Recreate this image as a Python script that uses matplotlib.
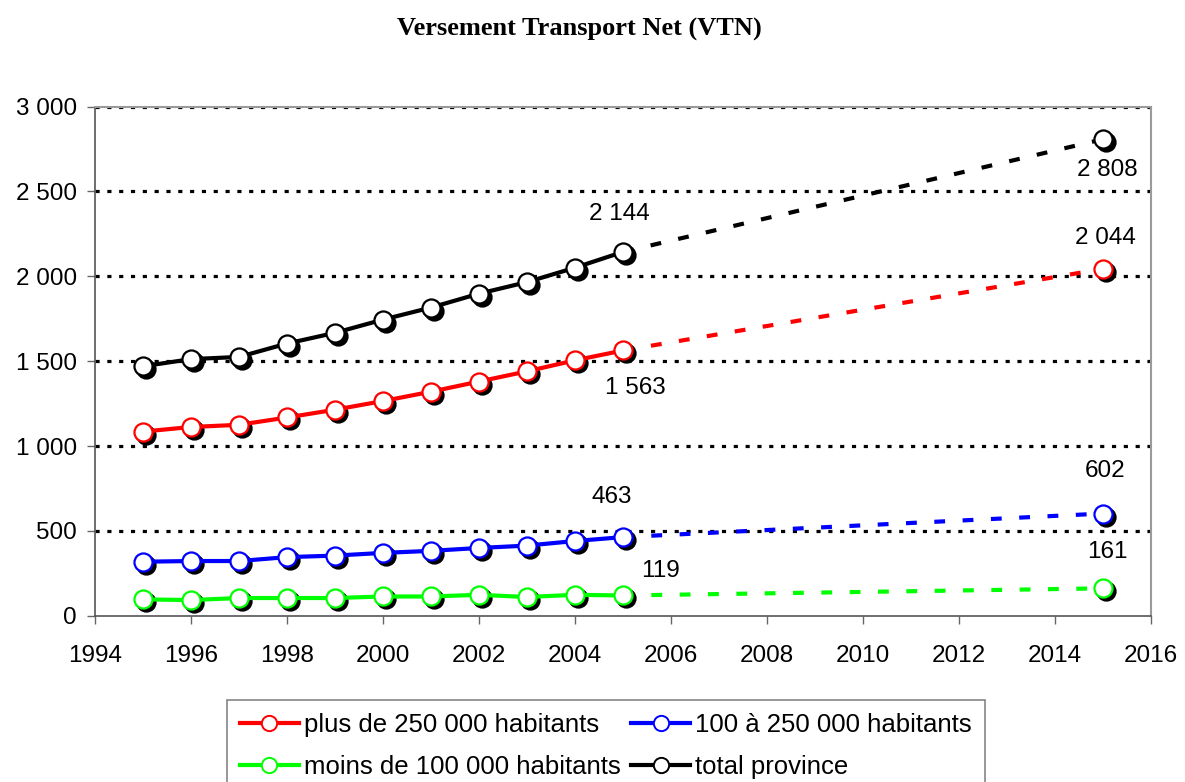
import numpy as np
import matplotlib
matplotlib.use("Agg")
import matplotlib.pyplot as plt
from matplotlib.ticker import FuncFormatter, MultipleLocator
from matplotlib.transforms import ScaledTranslation

plt.rcParams['font.family'] = ['Liberation Sans', 'DejaVu Sans']

years = [1995, 1996, 1997, 1998, 1999, 2000, 2001, 2002, 2003, 2004, 2005]
proj_years = [2005, 2015]

big = [1085, 1112, 1125, 1168, 1214, 1265, 1320, 1380, 1440, 1505, 1563]
mid = [318, 322, 322, 345, 354, 370, 382, 399, 413, 440, 463]
small = [96, 92, 104, 104, 104, 113, 113, 123, 110, 123, 119]
total = [1470, 1512, 1525, 1604, 1667, 1745, 1816, 1898, 1966, 2051, 2144]

big_proj = [1563, 2044]
mid_proj = [463, 602]
small_proj = [119, 161]
total_proj = [2144, 2808]

labels = ['plus de 250 000 habitants', '100 à 250 000 habitants',
          'moins de 100 000 habitants', 'total province']
colors = ['#ff0000', '#0000ff', '#00ff00', '#000000']

# label offsets in pixels (dx, dy) for 2005 and 2015 values
offs_2005 = [(12, -38), (-11, 40), (37, 24), (-4, 38)]
offs_2015 = [(2, 31), (2, 43), (4, 36), (4, -31)]

fig = plt.figure(figsize=(11.85, 7.82), dpi=100)
ax = fig.add_axes([0.0802, 0.2127, 0.8911, 0.6509])

shadow = ax.transData + ScaledTranslation(3 / 100, -3 / 100, fig.dpi_scale_trans)
mk = dict(marker='o', markersize=13, markeredgewidth=1.6)

series = [(big, big_proj), (mid, mid_proj), (small, small_proj), (total, total_proj)]
handles = []
for (vals, proj), col, lab, o1, o2 in zip(series, colors, labels, offs_2005, offs_2015):
    ax.plot(proj_years, proj, color=col, lw=3, dashes=(2.6, 4.2), zorder=3)
    ax.plot(years + [2015], vals + [proj[1]], ls='none', color='black',
            markerfacecolor='black', transform=shadow, zorder=4, **mk)
    ax.plot(years, vals, color=col, lw=3, zorder=5)
    ax.plot(years + [2015], vals + [proj[1]], ls='none', color=col,
            markerfacecolor='white', zorder=6, **mk)
    handles.append(ax.plot([], [], color=col, lw=3, marker='o', markersize=11,
                           markerfacecolor='white', markeredgewidth=1.4)[0])
    for x, v, (dx, dy) in [(2005, vals[-1], o1), (2015, proj[1], o2)]:
        txt = f'{v:,}'.replace(',', ' ')
        ax.annotate(txt, (x, v), xytext=(dx * 0.72, dy * 0.72),
                    textcoords='offset points', ha='center', va='center',
                    fontsize=17.5, zorder=7)

ax.set_xlim(1994, 2016)
ax.set_ylim(0, 3000)
ax.xaxis.set_major_locator(MultipleLocator(2))
ax.yaxis.set_major_locator(MultipleLocator(500))
ax.yaxis.set_major_formatter(FuncFormatter(lambda v, p: f'{int(v):,}'.replace(',', ' ')))

for y in range(500, 3001, 500):
    ax.axhline(y, color='black', lw=2.3, ls=(0, (1.3, 2.4)), zorder=1)

for s in ['top', 'right']:
    ax.spines[s].set_color('#9a9a9a')
    ax.spines[s].set_linewidth(1.5)
for s in ['left', 'bottom']:
    ax.spines[s].set_color('#555555')
    ax.spines[s].set_linewidth(1.2)

ax.tick_params(axis='both', direction='out', length=6, width=1, color='#666666',
               labelsize=17.5)
ax.tick_params(axis='x', pad=15)
ax.tick_params(axis='y', pad=7)

fig.text(0.489, 0.962, 'Versement Transport Net (VTN)', ha='center', va='center',
         fontsize=19, fontweight='bold', family='Liberation Serif')

order = [0, 2, 1, 3]
leg = fig.legend([handles[i] for i in order], [labels[i] for i in order],
                 loc='upper left', bbox_to_anchor=(0.1915, 0.1049),
                 borderaxespad=0, ncol=2, fontsize=18.5, frameon=True,
                 fancybox=False, edgecolor='#666666', handlelength=2.3,
                 handletextpad=0.2, columnspacing=0.4, labelspacing=0.72,
                 borderpad=0.5)
leg.get_frame().set_linewidth(1.2)

fig.savefig('out.png', dpi=100)
